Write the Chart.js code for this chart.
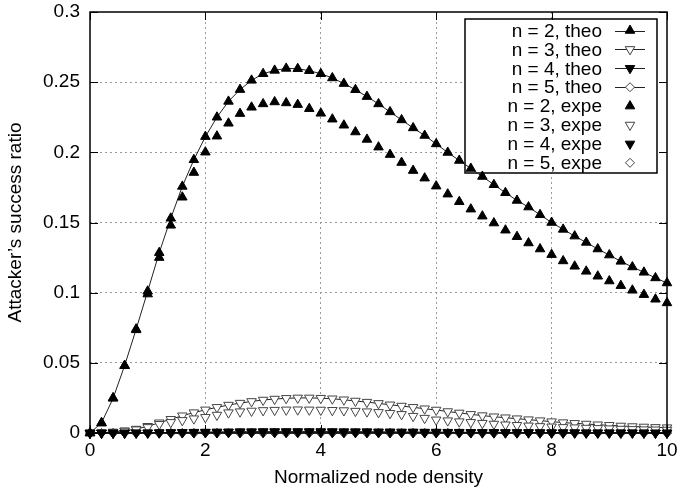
<!DOCTYPE html>
<html>
<head>
<meta charset="utf-8">
<script src="https://cdn.jsdelivr.net/npm/chart.js@4"></script>
<style>
  html, body { margin: 0; padding: 0; background: #fff; }
  #wrap { width: 677px; height: 493px; }
</style>
</head>
<body>
<div id="wrap"><canvas id="chart" width="677" height="493"></canvas></div>
<script>
// Abscisses : densité normalisée des noeuds
const density = [0, 0.2, 0.4, 0.6, 0.8, 1, 1.2, 1.4, 1.6, 1.8, 2, 2.2, 2.4, 2.6, 2.8, 3, 3.2, 3.4, 3.6, 3.8,
  4, 4.2, 4.4, 4.6, 4.8, 5, 5.2, 5.4, 5.6, 5.8, 6, 6.2, 6.4, 6.6, 6.8, 7, 7.2, 7.4, 7.6, 7.8,
  8, 8.2, 8.4, 8.6, 8.8, 9, 9.2, 9.4, 9.6, 9.8, 10];

// n = 2
const n2Theo = [0, 0.0073, 0.0247, 0.048, 0.074, 0.101, 0.1285, 0.153, 0.1757, 0.1947, 0.2112, 0.225, 0.2363, 0.2447, 0.2513,
  0.256, 0.2584, 0.2598, 0.2596, 0.2582, 0.256, 0.253, 0.249, 0.2446, 0.2397, 0.2345, 0.2288, 0.2231, 0.2174, 0.212,
  0.206, 0.1999, 0.1942, 0.1885, 0.1828, 0.1769, 0.1712, 0.1657, 0.161, 0.1555, 0.15, 0.1451, 0.1403, 0.1358, 0.1311,
  0.1268, 0.1223, 0.1183, 0.1145, 0.1105, 0.1069];
const n2Expe = [0, 0.007, 0.025, 0.048, 0.0735, 0.099, 0.125, 0.148, 0.168, 0.1856, 0.2001, 0.2115, 0.2207, 0.2276, 0.2321,
  0.2345, 0.2359, 0.2352, 0.234, 0.2311, 0.2278, 0.2236, 0.2193, 0.2145, 0.2092, 0.2037, 0.1984, 0.1927, 0.187, 0.1816,
  0.1759, 0.1702, 0.1648, 0.1595, 0.1545, 0.1496, 0.1445, 0.1399, 0.1354, 0.1311, 0.1271, 0.1226, 0.1188, 0.1152, 0.1117,
  0.1083, 0.105, 0.1017, 0.0986, 0.0953, 0.0927];

// n = 3
const n3Theo = [0, 0.0002, 0.0007, 0.0016, 0.0028, 0.0048, 0.0073, 0.0098, 0.0123, 0.0145, 0.0165, 0.0183, 0.0199, 0.0213, 0.0225,
  0.0235, 0.0242, 0.0247, 0.025, 0.025, 0.0248, 0.0244, 0.0237, 0.0228, 0.022, 0.0211, 0.0201, 0.0192, 0.0183, 0.0173,
  0.0164, 0.0153, 0.0143, 0.0133, 0.0124, 0.0116, 0.0109, 0.0102, 0.0095, 0.0088, 0.0081, 0.0074, 0.0069, 0.0064, 0.0059,
  0.0055, 0.005, 0.0046, 0.0043, 0.004, 0.0038];
const n3Expe = [0, 0.0002, 0.0006, 0.0014, 0.0024, 0.004, 0.0062, 0.0076, 0.009, 0.0102, 0.0112, 0.0128, 0.0145, 0.0152, 0.0157,
  0.0161, 0.0163, 0.0165, 0.0166, 0.0165, 0.0164, 0.0162, 0.016, 0.0156, 0.0152, 0.0147, 0.0141, 0.0133, 0.012, 0.0106,
  0.0094, 0.0088, 0.0081, 0.0076, 0.007, 0.0064, 0.0059, 0.0055, 0.0051, 0.0047, 0.0044, 0.004, 0.0038, 0.0035, 0.0033,
  0.0031, 0.0028, 0.0026, 0.0024, 0.0023, 0.0021];

// n = 4 et n = 5 : quasiment nuls
const n4Theo = [0, 0, 0, 0.0001, 0.0001, 0.0002, 0.0003, 0.0004, 0.0005, 0.0006, 0.0007, 0.0008, 0.0009, 0.001, 0.001,
  0.0011, 0.0011, 0.0011, 0.0011, 0.0011, 0.0011, 0.0011, 0.001, 0.001, 0.001, 0.0009, 0.0009, 0.0008, 0.0008, 0.0007,
  0.0007, 0.0006, 0.0006, 0.0005, 0.0005, 0.0005, 0.0004, 0.0004, 0.0004, 0.0003, 0.0003, 0.0003, 0.0003, 0.0002, 0.0002,
  0.0002, 0.0002, 0.0002, 0.0001, 0.0001, 0.0001];
const n4Expe = [0, 0, 0, 0, 0.0001, 0.0001, 0.0002, 0.0002, 0.0003, 0.0003, 0.0004, 0.0004, 0.0005, 0.0005, 0.0005,
  0.0006, 0.0006, 0.0006, 0.0006, 0.0006, 0.0005, 0.0005, 0.0005, 0.0005, 0.0005, 0.0004, 0.0004, 0.0004, 0.0004, 0.0003,
  0.0003, 0.0003, 0.0003, 0.0003, 0.0002, 0.0002, 0.0002, 0.0002, 0.0002, 0.0002, 0.0001, 0.0001, 0.0001, 0.0001, 0.0001,
  0.0001, 0.0001, 0.0001, 0.0001, 0, 0];
const n5Theo = [0, 0, 0, 0, 0, 0, 0, 0, 0, 0, 0.0001, 0.0001, 0.0001, 0.0001, 0.0001,
  0.0001, 0.0001, 0.0001, 0.0001, 0.0001, 0.0001, 0.0001, 0.0001, 0.0001, 0.0001, 0.0001, 0.0001, 0.0001, 0.0001, 0.0001,
  0.0001, 0, 0, 0, 0, 0, 0, 0, 0, 0, 0, 0, 0, 0, 0,
  0, 0, 0, 0, 0, 0];
const n5Expe = [0, 0, 0, 0, 0, 0, 0, 0, 0, 0, 0, 0, 0, 0, 0,
  0, 0, 0, 0, 0, 0, 0, 0, 0, 0, 0, 0, 0, 0, 0,
  0, 0, 0, 0, 0, 0, 0, 0, 0, 0, 0, 0, 0, 0, 0,
  0, 0, 0, 0, 0, 0];

const seriesLabels = ['n = 2, theo', 'n = 3, theo', 'n = 4, theo', 'n = 5, theo',
  'n = 2, expe', 'n = 3, expe', 'n = 4, expe', 'n = 5, expe'];
const xTicks = [0, 2, 4, 6, 8, 10];
const yTicks = [0, 0.05, 0.1, 0.15, 0.2, 0.25, 0.3];

const FONT = '"Liberation Sans", Arial, Helvetica, sans-serif';

const toPoints = arr => arr.map((v, i) => ({ x: density[i], y: v }));

// style des marqueurs façon gnuplot
const markers = [
  { style: 'triangle', rot: 0, fill: '#000', stroke: '#000' },   // n = 2
  { style: 'triangle', rot: 180, fill: '#fff', stroke: '#444' }, // n = 3
  { style: 'triangle', rot: 180, fill: '#000', stroke: '#000' }, // n = 4
  { style: 'rectRot', rot: 0, fill: '#fff', stroke: '#444' },    // n = 5
];
const allSeries = [n2Theo, n3Theo, n4Theo, n5Theo, n2Expe, n3Expe, n4Expe, n5Expe];
// ordre de dessin : petit = au-dessus (les triangles noirs n = 4 recouvrent les losanges)
const drawOrder = [4, 6, 1, 8, 3, 5, 2, 7];

const datasets = allSeries.map((arr, i) => {
  const m = markers[i % 4];
  const theo = i < 4;
  return {
    label: seriesLabels[i],
    data: toPoints(arr),
    showLine: theo,
    borderColor: '#222',
    borderWidth: 1,
    pointStyle: m.style,
    pointRotation: m.rot,
    pointRadius: m.style === 'rectRot' ? 4.5 : 5.5,
    pointBackgroundColor: m.fill,
    pointBorderColor: m.stroke,
    pointBorderWidth: 1,
    tension: 0,
    clip: false,
    order: drawOrder[i],
  };
});

// ======= Cadre, graduations internes =======
const framePlugin = {
  id: 'frame',
  afterDraw(chart) {
    const { ctx, chartArea: a, scales } = chart;
    ctx.save();
    ctx.strokeStyle = '#000';
    ctx.lineWidth = 1;
    const t = 8;
    xTicks.forEach(v => {
      const px = Math.round(scales.x.getPixelForValue(v)) + 0.5;
      ctx.beginPath();
      ctx.moveTo(px, a.bottom); ctx.lineTo(px, a.bottom - t);
      ctx.moveTo(px, a.top); ctx.lineTo(px, a.top + t);
      ctx.stroke();
    });
    yTicks.forEach(v => {
      const py = Math.round(scales.y.getPixelForValue(v)) + 0.5;
      ctx.beginPath();
      ctx.moveTo(a.left, py); ctx.lineTo(a.left + t, py);
      ctx.moveTo(a.right, py); ctx.lineTo(a.right - t, py);
      ctx.stroke();
    });
    ctx.lineWidth = 1.5;
    ctx.strokeRect(a.left, a.top, a.right - a.left, a.bottom - a.top);
    ctx.restore();
  }
};

// ======= Légende encadrée (texte à droite, échantillon après) =======
const keyPlugin = {
  id: 'boxKey',
  beforeDatasetsDraw(chart) {
    const ctx = chart.ctx;
    const box = { left: 465, top: 19, right: 657, bottom: 173 };
    ctx.save();
    ctx.fillStyle = '#fff';
    ctx.fillRect(box.left, box.top, box.right - box.left, box.bottom - box.top);
    ctx.strokeStyle = '#000';
    ctx.lineWidth = 1.5;
    ctx.strokeRect(box.left, box.top, box.right - box.left, box.bottom - box.top);
    ctx.font = '19px ' + FONT;
    ctx.textAlign = 'right';
    ctx.textBaseline = 'middle';
    chart.data.datasets.forEach((ds, i) => {
      const y = 30.5 + i * 18.9;
      ctx.fillStyle = '#000';
      ctx.fillText(ds.label, 602, y + 1);
      if (ds.showLine) {
        ctx.strokeStyle = '#222';
        ctx.lineWidth = 1;
        ctx.beginPath();
        ctx.moveTo(615, Math.round(y) + 0.5);
        ctx.lineTo(645, Math.round(y) + 0.5);
        ctx.stroke();
      }
      ctx.fillStyle = ds.pointBackgroundColor;
      ctx.strokeStyle = ds.pointBorderColor;
      ctx.lineWidth = 1;
      Chart.helpers.drawPoint(ctx, {
        pointStyle: ds.pointStyle,
        radius: ds.pointRadius,
        rotation: ds.pointRotation,
        borderWidth: 1,
      }, 630, y);
    });
    ctx.restore();
  }
};

new Chart(document.getElementById('chart').getContext('2d'), {
  type: 'scatter',
  data: { datasets: datasets },
  plugins: [keyPlugin, framePlugin],
  options: {
    responsive: false,
    animation: false,
    devicePixelRatio: 1,
    layout: { padding: { top: 12, right: 10, left: 0, bottom: 0 } },
    plugins: { legend: { display: false }, tooltip: { enabled: false } },
    scales: {
      x: {
        type: 'linear',
        min: 0, max: 10,
        afterFit: s => { s.height = 60; s.paddingLeft = 0; s.paddingRight = 0; },
        afterBuildTicks: s => { s.ticks = xTicks.map(v => ({ value: v })); },
        ticks: { color: '#000', font: { family: FONT, size: 19 }, padding: 6, maxRotation: 0,
          callback: v => String(v) },
        grid: { color: ctx => (ctx.tick && (ctx.tick.value === 0 || ctx.tick.value === 10)) ? 'rgba(0,0,0,0)' : '#999',
          lineWidth: 1, drawTicks: false },
        border: { display: false, dash: [2, 3] },
        title: { display: true, text: 'Normalized node density', color: '#000',
          font: { family: FONT, size: 19 }, padding: { top: 4, bottom: 4 } },
      },
      y: {
        type: 'linear',
        min: 0, max: 0.3,
        afterFit: s => { s.width = 90; s.paddingTop = 0; s.paddingBottom = 0; },
        afterBuildTicks: s => { s.ticks = yTicks.map(v => ({ value: v })); },
        ticks: { color: '#000', font: { family: FONT, size: 19 }, padding: 10,
          callback: v => String(Math.round(v * 100) / 100) },
        grid: { color: ctx => (ctx.tick && (ctx.tick.value === 0 || ctx.tick.value === 0.3)) ? 'rgba(0,0,0,0)' : '#999',
          lineWidth: 1, drawTicks: false },
        border: { display: false, dash: [2, 3] },
        title: { display: true, text: 'Attacker\u2019s success ratio', color: '#000',
          font: { family: FONT, size: 19 }, padding: { top: 4, bottom: 4 } },
      },
    },
  },
});
</script>
</body>
</html>
